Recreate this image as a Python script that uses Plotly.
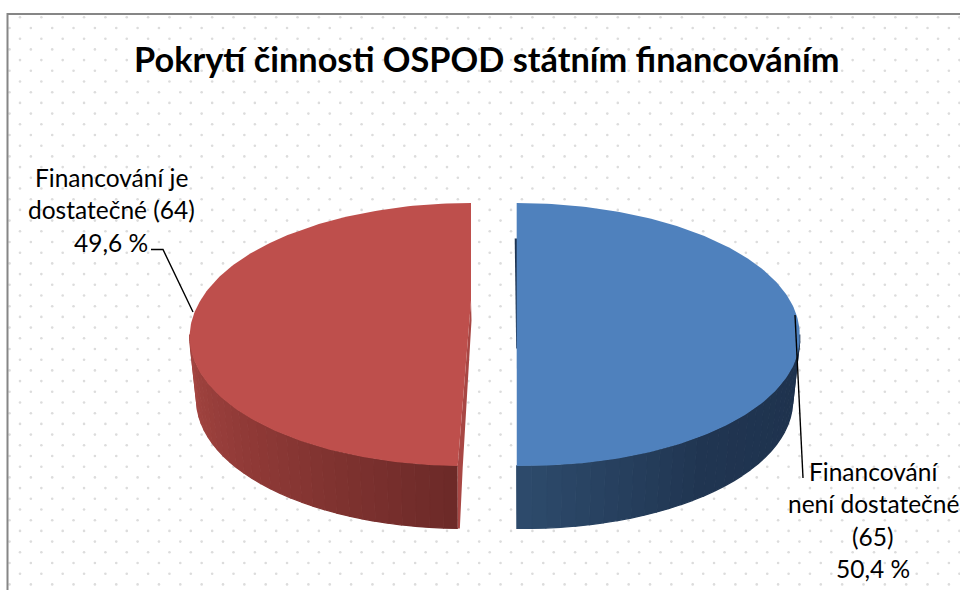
import numpy as np
import plotly.graph_objects as go

# ---- data ----
categories = ["Financování není dostatečné", "Financování je dostatečné"]
counts = [65, 64]
label_lines = [
    ["Financování", "není dostatečné", "(65)", "50,4 %"],
    ["Financování je", "dostatečné (64)", "49,6 %"],
]
title_text = "Pokrytí činnosti OSPOD státním financováním"

# ---- style / layout ----
W, H = 960, 590
TOP_COL = ["#4f81bd", "#be4f4c"]
WALL_STOPS = [
    [(0.0, (30, 50, 77)), (0.55, (32, 53, 81)), (1.0, (46, 75, 108))],
    [(0.0, (108, 42, 40)), (0.5, (140, 56, 53)), (1.0, (166, 70, 66))],
]
CX = [516.7, 471.0]
RX = [283.0, 280.0]
CY, RY, DEPTH, BOTTOM_SCALE = 334.5, 131.5, 62.5, 0.975
SHEAR = [0.053, -0.0393]       # lower half leans (perspective of the 3-D pie)
KINK = [0.0, -34.0]            # height, relative to CY, where the lean starts
FONT = "Lato, Carlito, Calibri, sans-serif"

total = sum(counts)
sweep = [c / total * 360 for c in counts]
spans = [(0.0, sweep[0]), (sweep[0], 360.0)]


def pt(i, deg, scale=1.0, dz=0.0):
    t = np.radians(deg)
    y = -RY * np.cos(t)
    x = CX[i] + scale * RX[i] * np.sin(t) + SHEAR[i] * np.maximum(y - KINK[i], 0)
    return x, CY + y + dz


def lerp(stops, u):
    for (a, ca), (b, cb) in zip(stops, stops[1:]):
        if u <= b:
            f = (u - a) / (b - a)
            return "rgb(%d,%d,%d)" % tuple(round(p + (q - p) * f) for p, q in zip(ca, cb))
    return "rgb(%d,%d,%d)" % stops[-1][1]


fig = go.Figure()

# dotted chart-area background
rows = np.arange(17.3, H, 10.7)
dx, dy = [], []
for k, ry_ in enumerate(rows):
    off = 20.0 if k % 2 == 0 else 9.5
    xs = np.arange(off, W, 21.35)
    dx.extend(xs)
    dy.extend([ry_] * len(xs))
fig.add_trace(go.Scatter(x=dx, y=dy, mode="markers", hoverinfo="skip",
                         marker=dict(size=2.6, color="#dcdcdc", line_width=0)))


def filled(xs, ys, col, lw=0.0):
    fig.add_trace(go.Scatter(x=xs, y=ys, mode="lines", fill="toself", fillcolor=col,
                             line=dict(color=col, width=lw), hoverinfo="skip"))


for i, (a0, a1) in enumerate(spans):
    # outer wall: only the part facing the viewer, clock angles 90..270
    w0, w1 = max(a0, 90.0), min(a1, 270.0)
    edges = np.linspace(w0, w1, 31)
    for s0, s1 in zip(edges, edges[1:]):
        arc = np.linspace(s0, s1, 4)
        tx, ty = pt(i, arc)
        bx, by = pt(i, arc[::-1], BOTTOM_SCALE, DEPTH)
        u = ((s0 + s1) / 2 - w0) / (w1 - w0)
        filled(list(tx) + list(bx), list(ty) + list(by), lerp(WALL_STOPS[i], u), 1.3)
    # inner cut faces (slivers beside the gap)
    rimx, rimy = pt(i, a0)
    if i == 1:
        botx, boty = pt(i, a0, BOTTOM_SCALE, DEPTH)
        filled([CX[i], CX[i] + 0.5, rimx + 5, botx + 2, botx, rimx],
               [CY + KINK[i], CY + KINK[i] + 20, rimy + 2, boty, boty, rimy], "#a84744")
    else:
        filled([CX[i] - 2, CX[i] + 1, CX[i] + 1, CX[i] - 0.5],
               [CY - 96, CY - 96, CY + 14, CY + 14], "#1f3552")
    # top face
    arc = np.linspace(a0, a1, 180)
    fx, fy = pt(i, arc)
    fx, fy = list(fx), list(fy)
    filled(fx + [CX[i]], fy + [CY + KINK[i]], TOP_COL[i])

# leader lines
fig.add_trace(go.Scatter(x=[795, 803], y=[315, 478], mode="lines", hoverinfo="skip",
                         line=dict(color="#000000", width=1.4)))
fig.add_trace(go.Scatter(x=[151, 163, 193], y=[249.5, 249.5, 312], mode="lines", hoverinfo="skip",
                         line=dict(color="#000000", width=1.4)))

# chart-area border
fig.add_trace(go.Scatter(x=[7.5, 7.5, W], y=[H, 14, 14], mode="lines", hoverinfo="skip",
                         line=dict(color="#868686", width=2)))

annotations = [dict(x=486.5, y=58, xref="x", yref="y", text="<b>%s</b>" % title_text, showarrow=False,
                    font=dict(family=FONT, size=34.3, color="#000000"), xanchor="center", yanchor="middle")]
label_pos = [(873, 471), (111, 177)]
for (lx, ly), lines in zip(label_pos, label_lines):
    for n, line in enumerate(lines):
        annotations.append(dict(x=lx, y=ly + n * 32.5, xref="x", yref="y", text=line, showarrow=False,
                                font=dict(family=FONT, size=24.5, color="#000000"),
                                xanchor="center", yanchor="middle"))

fig.update_layout(
    width=W, height=H, autosize=False, showlegend=False,
    margin=dict(l=0, r=0, t=0, b=0), paper_bgcolor="#ffffff", plot_bgcolor="#ffffff",
    xaxis=dict(range=[0, W], visible=False, fixedrange=True),
    yaxis=dict(range=[H, 0], visible=False, fixedrange=True),
    annotations=annotations,
)
fig.write_html("out.html", config={"displayModeBar": False},
               post_script="document.body.style.margin='0';document.body.style.overflow='hidden';")
